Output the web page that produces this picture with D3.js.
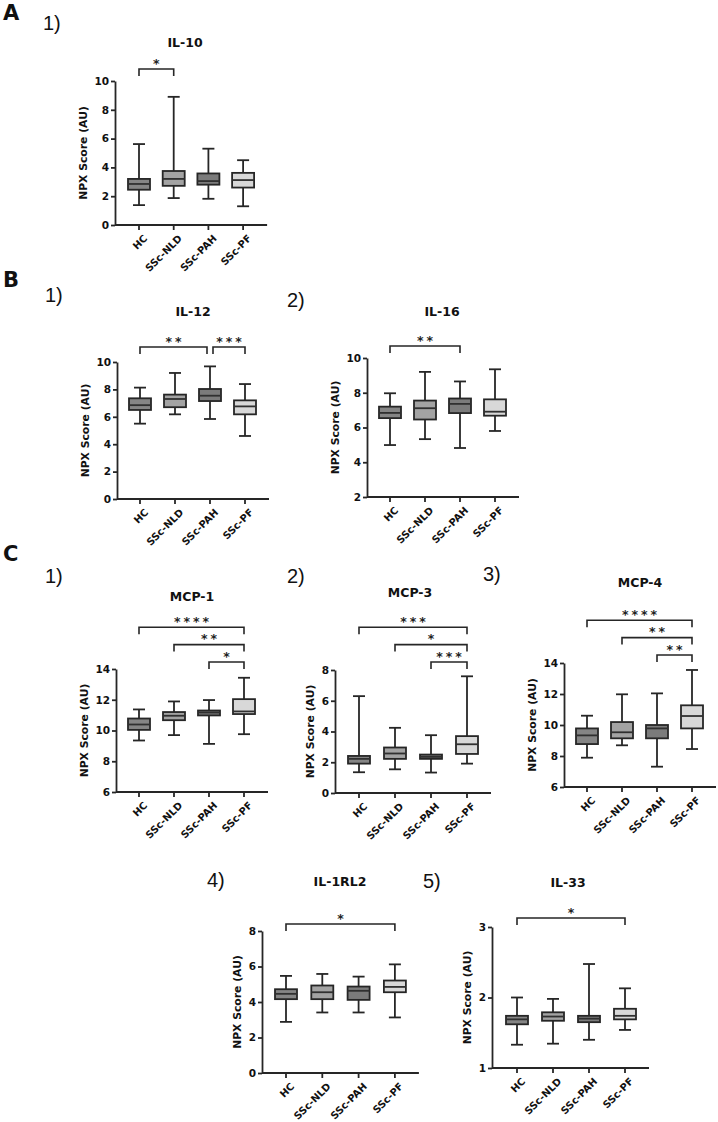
<!DOCTYPE html>
<html><head><meta charset="utf-8">
<script src="https://cdn.jsdelivr.net/npm/d3@7/dist/d3.min.js"></script>
<style>body{margin:0;background:#fff}</style>
</head><body>
<svg id="chart" width="718" height="1122"></svg>
<script>
// ---------- data ----------
const categories = ["HC", "SSc-NLD", "SSc-PAH", "SSc-PF"];
// each group: [min, Q1, median, Q3, max]
const il10   = [[1.38,2.45,2.85,3.2,5.62],[1.87,2.72,3.2,3.75,8.9],[1.82,2.8,3.05,3.58,5.3],[1.3,2.6,3.12,3.62,4.5]];
const il12   = [[5.5,6.5,6.85,7.35,8.13],[6.18,6.7,7.3,7.62,9.2],[5.84,7.15,7.54,8.03,9.68],[4.6,6.18,6.76,7.2,8.39]];
const il16   = [[4.99,6.54,6.84,7.2,7.97],[5.33,6.46,7.11,7.55,9.2],[4.82,6.83,7.36,7.67,8.65],[5.8,6.68,6.91,7.62,9.35]];
const mcp1   = [[9.35,10.04,10.39,10.78,11.37],[9.7,10.67,10.96,11.2,11.89],[9.13,10.98,11.17,11.3,11.98],[9.76,11.07,11.24,12.04,13.43]];
const mcp3   = [[1.35,1.91,2.22,2.41,6.3],[1.54,2.22,2.57,2.96,4.24],[1.33,2.22,2.35,2.5,3.76],[1.91,2.54,3.17,3.7,7.59]];
const mcp4   = [[7.89,8.77,9.33,9.78,10.6],[8.69,9.14,9.53,10.19,11.98],[7.31,9.14,9.78,10.0,12.04],[8.45,9.78,10.58,11.27,13.55]];
const il1rl2 = [[2.88,4.16,4.46,4.72,5.47],[3.41,4.16,4.55,4.93,5.58],[3.41,4.12,4.63,4.87,5.43],[3.13,4.55,4.85,5.21,6.12]];
const il33   = [[1.33,1.62,1.69,1.74,2.0],[1.345,1.67,1.73,1.79,1.98],[1.4,1.65,1.70,1.74,2.475],[1.54,1.69,1.74,1.84,2.13]];

// tick labels
const il10Ticks   = [0,2,4,6,8,10];
const il12Ticks   = [0,2,4,6,8,10];
const il16Ticks   = [2,4,6,8,10];
const mcp1Ticks   = [6,8,10,12,14];
const mcp3Ticks   = [0,2,4,6,8];
const mcp4Ticks   = [6,8,10,12,14];
const il1rl2Ticks = [0,2,4,6,8];
const il33Ticks   = [1,2,3];

// significance: [from, to, label, level]
const il10Sig   = [["HC","SSc-NLD","*",0]];
const il12Sig   = [["HC","SSc-PAH","**",0],["SSc-PAH","SSc-PF","***",0]];
const il16Sig   = [["HC","SSc-PAH","**",0]];
const mcp1Sig   = [["HC","SSc-PF","****",2],["SSc-NLD","SSc-PF","**",1],["SSc-PAH","SSc-PF","*",0]];
const mcp3Sig   = [["HC","SSc-PF","***",2],["SSc-NLD","SSc-PF","*",1],["SSc-PAH","SSc-PF","***",0]];
const mcp4Sig   = [["HC","SSc-PF","****",2],["SSc-NLD","SSc-PF","**",1],["SSc-PAH","SSc-PF","**",0]];
const il1rl2Sig = [["HC","SSc-PF","*",0]];
const il33Sig   = [["HC","SSc-PF","*",0]];

const sectionLetters = ["A","B","C"];
const panelNumbers = ["1)","1)","2)","1)","2)","3)","4)","5)"];
const titles = ["IL-10","IL-12","IL-16","MCP-1","MCP-3","MCP-4","IL-1RL2","IL-33"];
const yTitle = "NPX Score (AU)";

// ---------- layout ----------
const fills = {"HC":"#858585","SSc-NLD":"#a3a3a3","SSc-PAH":"#7b7b7b","SSc-PF":"#d8d8d8"};
const ink = "#262626";

const panels = [
  {data:il10,   ticks:il10Ticks,   sig:il10Sig,   ax:115, top:81,  bottom:225,  off:24, step:34.7, tx:185, ty:47,  sb:12},
  {data:il12,   ticks:il12Ticks,   sig:il12Sig,   ax:117, top:362, bottom:499,  off:23, step:35,   tx:193, ty:316, sb:15},
  {data:il16,   ticks:il16Ticks,   sig:il16Sig,   ax:367, top:358, bottom:497,  off:23, step:35,   tx:442, ty:316, sb:12},
  {data:mcp1,   ticks:mcp1Ticks,   sig:mcp1Sig,   ax:116, top:669, bottom:792,  off:23, step:35,   tx:192, ty:601, sb:7},
  {data:mcp3,   ticks:mcp3Ticks,   sig:mcp3Sig,   ax:335, top:670, bottom:793,  off:24, step:36,   tx:410, ty:597, sb:8},
  {data:mcp4,   ticks:mcp4Ticks,   sig:mcp4Sig,   ax:564, top:663, bottom:787,  off:23, step:35,   tx:640, ty:587, sb:8},
  {data:il1rl2, ticks:il1rl2Ticks, sig:il1rl2Sig, ax:262, top:931, bottom:1073, off:24, step:36.3, tx:340, ty:886, sb:7},
  {data:il33,   ticks:il33Ticks,   sig:il33Sig,   ax:492, top:927, bottom:1068, off:25, step:36,   tx:568, ty:887, sb:9}
];
const letterPos = [[3,20],[3,287],[3,561]];
const numberPos = [[43,30],[45,302],[287,307],[45,583],[287,583],[483,581],[207,887],[423,888]];

const svg = d3.select("#chart");
svg.append("rect").attr("width",718).attr("height",1122).attr("fill","#fff");

sectionLetters.forEach((t,i)=>{
  svg.append("text").attr("x",letterPos[i][0]).attr("y",letterPos[i][1])
    .attr("font-family","DejaVu Sans").attr("font-weight","bold").attr("font-size",21)
    .attr("fill","#111").text(t);
});
panelNumbers.forEach((t,i)=>{
  svg.append("text").attr("x",numberPos[i][0]).attr("y",numberPos[i][1])
    .attr("font-family","Liberation Sans").attr("font-size",20)
    .attr("fill","#111").text(t);
});

panels.forEach((p,pi)=>{
  const g = svg.append("g");
  const x0 = p.ax + p.off - p.step/2;
  const x = d3.scaleBand().domain(categories).range([x0, x0 + 4*p.step]).padding(0);
  const cx = c => x(c) + x.bandwidth()/2;
  const y = d3.scaleLinear().domain([p.ticks[0], p.ticks[p.ticks.length-1]]).range([p.bottom, p.top]);

  // title
  g.append("text").attr("x",p.tx).attr("y",p.ty).attr("text-anchor","middle")
    .attr("font-family","DejaVu Sans").attr("font-weight","bold").attr("font-size",12.5)
    .attr("fill","#111").text(titles[pi]);

  // y axis
  const ya = g.append("g").attr("transform",`translate(${p.ax},0)`)
    .call(d3.axisLeft(y).tickValues(p.ticks).tickSize(4).tickSizeOuter(0).tickPadding(2).tickFormat(d3.format("d")));
  ya.select(".domain").attr("stroke",ink).attr("stroke-width",1.8);
  ya.selectAll(".tick line").attr("stroke",ink).attr("stroke-width",1.8);
  ya.selectAll(".tick text").attr("font-family","DejaVu Sans").attr("font-weight","bold")
    .attr("font-size",10.5).attr("fill","#111");

  const maxDigits = d3.max(p.ticks, t => String(t).length);
  const titleX = p.ax - 6 - maxDigits*7 - 11.5;
  g.append("text").attr("transform",`translate(${titleX},${(p.top+p.bottom)/2}) rotate(-90)`)
    .attr("text-anchor","middle").attr("dy","0.35em")
    .attr("font-family","DejaVu Sans").attr("font-weight","bold").attr("font-size",10.8)
    .attr("fill","#111").text(yTitle);

  // x axis
  const xa = g.append("g").attr("transform",`translate(0,${p.bottom})`)
    .call(d3.axisBottom(x).tickSize(5).tickSizeOuter(0).tickPadding(0));
  xa.select(".domain").remove();
  xa.selectAll(".tick line").attr("stroke",ink).attr("stroke-width",1.8);
  xa.selectAll(".tick text").attr("font-family","DejaVu Sans").attr("font-weight","bold")
    .attr("font-size",10).attr("fill","#111")
    .attr("text-anchor","end").attr("dy","0.35em")
    .attr("transform","translate(3,8) rotate(-45)");
  g.append("line").attr("x1",p.ax).attr("x2",cx(categories[3])+24)
    .attr("y1",p.bottom).attr("y2",p.bottom).attr("stroke",ink).attr("stroke-width",1.8);

  // boxes
  const boxW = 22, capW = 12;
  p.data.forEach((d,i)=>{
    const c = cx(categories[i]);
    const [mn,q1,md,q3,mx] = d;
    const bg = g.append("g").attr("stroke",ink).attr("stroke-width",1.8);
    bg.append("line").attr("x1",c).attr("x2",c).attr("y1",y(mx)).attr("y2",y(q3));
    bg.append("line").attr("x1",c).attr("x2",c).attr("y1",y(q1)).attr("y2",y(mn));
    bg.append("line").attr("x1",c-capW/2).attr("x2",c+capW/2).attr("y1",y(mx)).attr("y2",y(mx));
    bg.append("line").attr("x1",c-capW/2).attr("x2",c+capW/2).attr("y1",y(mn)).attr("y2",y(mn));
    bg.append("rect").attr("x",c-boxW/2).attr("width",boxW)
      .attr("y",y(q3)).attr("height",y(q1)-y(q3)).attr("fill",fills[categories[i]]);
    bg.append("line").attr("x1",c-boxW/2).attr("x2",c+boxW/2).attr("y1",y(md)).attr("y2",y(md))
      .attr("stroke","#303030");
  });

  // significance brackets
  p.sig.forEach(s=>{
    const [a,b,lab,lev] = s;
    const by = p.top - p.sb - lev*17.4;
    let xa1 = cx(a), xb1 = cx(b);
    p.sig.forEach(o=>{
      if (o!==s && o[3]===lev) {
        if (o[0]===b) xb1 -= 3;
        if (o[1]===a) xa1 += 3;
      }
    });
    g.append("path").attr("d",`M${xa1},${by+7}V${by}H${xb1}V${by+7}`)
      .attr("fill","none").attr("stroke",ink).attr("stroke-width",1.6);
    g.append("text").attr("x",(xa1+xb1)/2 + 1.5).attr("y",by-1.5).attr("text-anchor","middle")
      .attr("font-family","DejaVu Sans").attr("font-weight","bold").attr("font-size",12.5).attr("letter-spacing","3px")
      .attr("fill","#222").text(lab);
  });
});
</script>
</body></html>
